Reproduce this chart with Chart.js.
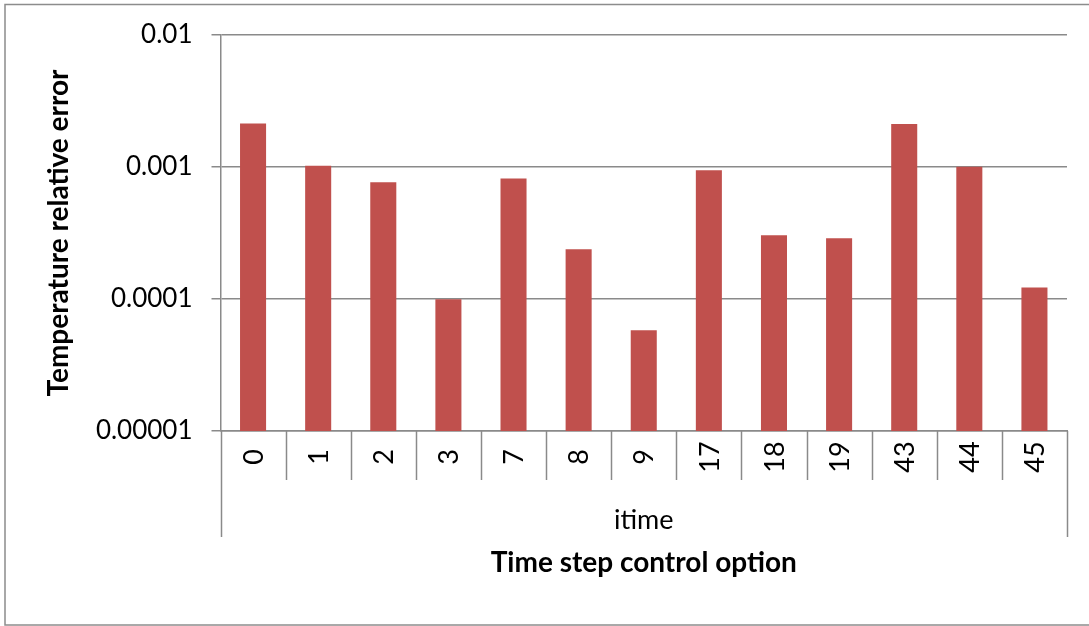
<!DOCTYPE html>
<html><head><meta charset="utf-8">
<script src="https://cdn.jsdelivr.net/npm/chart.js@4.4.1/dist/chart.umd.min.js"></script>
<style>html,body{margin:0;padding:0;background:#fff}canvas{display:block}</style>
</head><body>
<canvas id="c" width="1089" height="626"></canvas>
<script>
const categories = ['0','1','2','3','7','8','9','17','18','19','43','44','45'];
const errorValues = [0.00214,0.00102,0.000766,0.0000995,0.00082,0.000238,0.0000579,0.000944,0.000304,0.000288,0.00212,0.001005,0.000122];
const yTickValues = [0.00001,0.0001,0.001,0.01];
const yTickLabels = ['0.00001','0.0001','0.001','0.01'];
const groupLabel = 'itime';
const xTitle = 'Time step control option';
const yTitle = 'Temperature relative error';

const FONT = 'Lato, "Open Sans", sans-serif';
const GRID = '#8a8a8a';

const extras = {
  id: 'extras',
  afterDraw(chart) {
    const ctx = chart.ctx, xs = chart.scales.x, a = chart.chartArea;
    const half = (xs.getPixelForValue(1) - xs.getPixelForValue(0)) / 2;
    ctx.save();
    ctx.strokeStyle = GRID;
    ctx.lineWidth = 1.5;
    ctx.beginPath();
    for (let i = 0; i <= categories.length; i++) {
      const px = Math.round(xs.getPixelForValue(Math.min(i, categories.length - 1)) + (i === categories.length ? half : -half)) + 0.5;
      const yEnd = (i === 0 || i === categories.length) ? 537 : 480;
      ctx.moveTo(px, a.bottom);
      ctx.lineTo(px, yEnd);
    }
    ctx.stroke();
    // outer frame
    ctx.strokeStyle = '#8c8c8c';
    ctx.lineWidth = 1.5;
    ctx.strokeRect(5, 4.5, 1100, 620.5);
    // category labels
    ctx.fillStyle = '#000';
    ctx.font = '27px ' + FONT;
    ctx.textAlign = 'center';
    ctx.textBaseline = 'middle';
    categories.forEach((c, i) => {
      const px = xs.getPixelForValue(i);
      ctx.save();
      ctx.translate(px + 1, 457);
      ctx.rotate(-Math.PI / 2);
      ctx.fillText(c, 0, 0);
      ctx.restore();
    });
    ctx.fillText(groupLabel, (a.left + a.right) / 2, 520);
    ctx.restore();
  }
};

new Chart(document.getElementById('c'), {
  type: 'bar',
  data: {
    labels: categories,
    datasets: [{
      data: errorValues,
      backgroundColor: '#c0504d',
      borderWidth: 0,
      categoryPercentage: 1,
      barPercentage: 0.4
    }]
  },
  options: {
    responsive: false,
    animation: false,
    devicePixelRatio: 1,
    layout: { padding: { left: 42, top: 35, right: 22, bottom: 46 } },
    plugins: { legend: { display: false }, tooltip: { enabled: false } },
    scales: {
      x: {
        ticks: { display: false },
        grid: { display: false },
        border: { display: true, color: GRID, width: 1.5 },
        title: { display: true, text: xTitle, color: '#000', padding: 0,
                 font: { family: FONT, size: 28, weight: 'bold' } },
        afterFit(s) { s.height = 149; }
      },
      y: {
        type: 'logarithmic',
        min: 0.00001,
        max: 0.01,
        afterBuildTicks(s) { s.ticks = yTickValues.map(v => ({ value: v })); },
        ticks: {
          callback: (v, i) => yTickLabels[i],
          font: { family: FONT, size: 26 },
          color: '#000',
          padding: 19
        },
        grid: { color: GRID, lineWidth: 1.5, tickLength: 9 },
        border: { color: GRID, width: 1.5 },
        title: { display: true, text: yTitle, color: '#000', padding: 0,
                 font: { family: FONT, size: 28, weight: 'bold' } },
        afterFit(s) { s.width = 178.5; }
      }
    }
  },
  plugins: [extras]
});
</script>
</body></html>
